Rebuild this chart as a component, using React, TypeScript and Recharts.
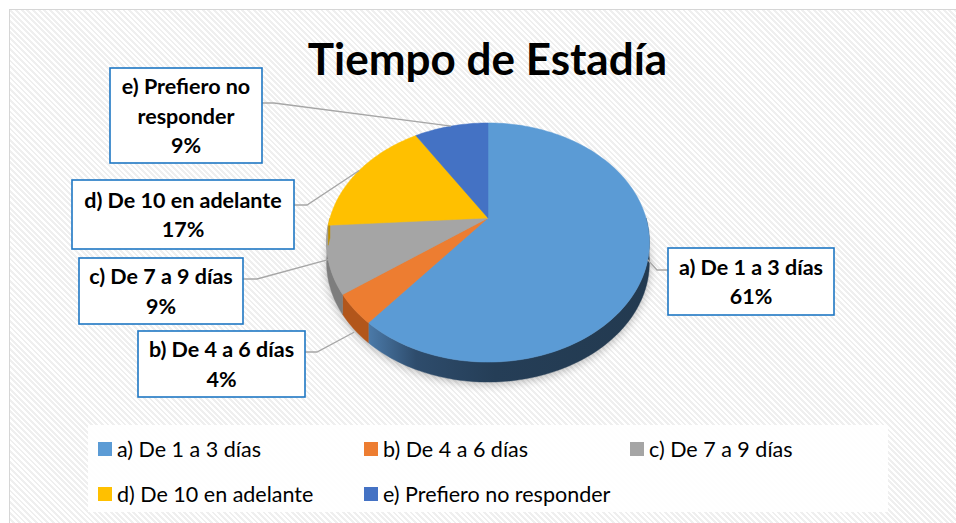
import React from 'react';
import { PieChart, Pie, Cell, Legend } from 'recharts';

// ---- data ----
const categories = [
  'a) De 1 a 3 días',
  'b) De 4 a 6 días',
  'c) De 7 a 9 días',
  'd) De 10 en adelante',
  'e) Prefiero no responder',
];
const values = [61, 4, 9, 17, 9];
const labelLines = [
  ['a) De 1 a 3 días'],
  ['b) De 4 a 6 días'],
  ['c) De 7 a 9 días'],
  ['d) De 10 en adelante'],
  ['e) Prefiero no', 'responder'],
];
const colors = ['#5B9BD5', '#ED7D31', '#A5A5A5', '#FFC000', '#4472C4'];
const sideColors = ['url(#sideA)', '#B2561B', '#7D7D7D', '#BF9000', '#2F528F'];
const title = 'Tiempo de Estadía';

const data = categories.map((name, i) => ({ name, value: values[i] }));

// ---- layout of the label boxes (annotation placement) ----
const boxLayout = [
  { x: 668, y: 248, w: 166, h: 67, side: 'left', ay: 270, elbow: 11, drop: 0 },
  { x: 138, y: 331, w: 167, h: 66, side: 'right', ay: 352, elbow: 12, drop: 23 },
  { x: 79, y: 258, w: 164, h: 66, side: 'right', ay: 279, elbow: 14, drop: 0 },
  { x: 72, y: 180, w: 222, h: 69, side: 'right', ay: 205, elbow: 13, drop: 0 },
  { x: 110, y: 68, w: 152, h: 95, side: 'right', ay: 103, elbow: 12, drop: 0 },
];

// ---- pseudo-3D projection ----
const PERSP = 0.205;
const KY = 0.725;
const DEPTH = 20;

function proj(cx: number, cy: number, R: number, deg: number, dy = 0): [number, number] {
  const t = (deg * Math.PI) / 180;
  const u = Math.cos(t);
  const v = Math.sin(t);
  const w = 1 + PERSP * v;
  return [cx + (R * u) / w, cy - (R * KY * v) / w + dy];
}

function arcPts(cx: number, cy: number, R: number, a0: number, a1: number, dy = 0) {
  const n = Math.max(2, Math.ceil(Math.abs(a1 - a0) / 1.5));
  const pts: [number, number][] = [];
  for (let k = 0; k <= n; k++) {
    pts.push(proj(cx, cy, R, a0 + ((a1 - a0) * k) / n, dy));
  }
  return pts;
}

const toPath = (pts: [number, number][]) =>
  pts.map((p, i) => `${i === 0 ? 'M' : 'L'}${p[0].toFixed(2)},${p[1].toFixed(2)}`).join(' ');

const LABEL_FONT = 'Lato, "Open Sans", sans-serif';

const renderSlice = (props: any) => {
  const { cx, cy, outerRadius, startAngle, endAngle, midAngle, percent, index } = props;
  const R = outerRadius;
  const lo = Math.min(startAngle, endAngle);
  const hi = Math.max(startAngle, endAngle);

  // top face
  const top = `M${cx},${cy} ` + toPath(arcPts(cx, cy, R, startAngle, endAngle)).replace(/^M/, 'L') + ' Z';

  // front side wall
  const fLo = Math.max(lo, -180);
  const fHi = Math.min(hi, 0);
  let side: string | null = null;
  if (fLo < fHi) {
    const upper = arcPts(cx, cy, R, fHi, fLo, 0);
    const lower = arcPts(cx, cy, R, fLo, fHi, DEPTH);
    side = toPath(upper) + ' ' + toPath(lower).replace(/^M/, 'L') + ' Z';
  }

  // shadow (only once)
  let shadow: React.ReactNode = null;
  if (index === 0) {
    const full = toPath(arcPts(cx, cy, R, 0, 360, DEPTH + 2)) + ' Z';
    shadow = (
      <g>
        <defs>
          <filter id="pieShadow" x="-20%" y="-20%" width="140%" height="140%">
            <feGaussianBlur stdDeviation="5" />
          </filter>
          <linearGradient id="sideA" x1="0" y1="0" x2="1" y2="0">
            <stop offset="0" stopColor="#4B7AA9" />
            <stop offset="0.17" stopColor="#2E4C6C" />
            <stop offset="0.45" stopColor="#253E57" />
            <stop offset="1" stopColor="#233A50" />
          </linearGradient>
        </defs>
        <path d={full} fill="#000" opacity={0.28} filter="url(#pieShadow)" />
      </g>
    );
  }

  // leader line + label box
  const L = boxLayout[index];
  const [axp, ayp] = proj(cx, cy, R, midAngle, L.drop);
  const bx = L.side === 'left' ? L.x : L.x + L.w;
  const ex = L.side === 'left' ? bx - L.elbow : bx + L.elbow;
  const lines = [...labelLines[index], `${Math.round(percent * 100)}%`];
  const lineGap = 29.5;
  const firstY = L.y + L.h / 2 - ((lines.length - 1) * lineGap) / 2;

  return (
    <g key={`slice-${index}`}>
      {shadow}
      {side && <path d={side} fill={sideColors[index]} stroke={sideColors[index]} strokeWidth={0.4} />}
      <path d={top} fill={colors[index]} stroke={colors[index]} strokeWidth={0.5} />
      <polyline
        points={`${axp},${ayp} ${ex},${L.ay} ${bx},${L.ay}`}
        fill="none"
        stroke="#A6A6A6"
        strokeWidth={1.3}
      />
      <rect x={L.x} y={L.y} width={L.w} height={L.h} fill="#FFFFFF" stroke="#1F77C4" strokeWidth={1.6} />
      {lines.map((t, k) => (
        <text
          key={k}
          x={L.x + L.w / 2}
          y={firstY + k * lineGap}
          textAnchor="middle"
          dominantBaseline="central"
          fontFamily={LABEL_FONT}
          fontWeight={700}
          fontSize={21.5}
          fill="#000"
        >
          {t}
        </text>
      ))}
    </g>
  );
};

const renderLegend = (props: any) => {
  const payload = props.payload || [];
  return (
    <div style={{ position: 'relative', width: 800, height: 87 }}>
      {payload.map((entry: any, i: number) => {
        const col = i % 3;
        const row = Math.floor(i / 3);
        return (
          <div
            key={i}
            style={{
              position: 'absolute',
              left: 10 + col * 266,
              top: 17 + row * 45,
              height: 14,
              display: 'flex',
              alignItems: 'center',
              whiteSpace: 'nowrap',
            }}
          >
            <span
              style={{ display: 'inline-block', width: 14, height: 14, background: colors[i], marginRight: 5 }}
            />
            <span style={{ fontFamily: LABEL_FONT, fontSize: 21.5, color: '#000', lineHeight: '14px' }}>
              {entry.value}
            </span>
          </div>
        );
      })}
    </div>
  );
};

export default function App() {
  return (
    <div style={{ position: 'relative', width: 956, height: 523, background: '#fff', overflow: 'hidden' }}>
      <style>{'body{margin:0}'}</style>
      <div
        style={{
          position: 'absolute',
          left: 9,
          top: 9,
          width: 947,
          height: 514,
          boxSizing: 'border-box',
          borderLeft: '1px solid #D6D6D6',
          borderTop: '1px solid #D6D6D6',
          background:
            'repeating-linear-gradient(45deg, #ffffff 0px, #ffffff 2px, #efefef 2px, #efefef 4px)',
        }}
      />
      <div
        style={{
          position: 'absolute',
          left: 88,
          top: 425,
          width: 800,
          height: 87,
          background: 'rgba(255,255,255,0.92)',
        }}
      />
      <div
        style={{
          position: 'absolute',
          left: 0,
          top: 36,
          width: 975,
          textAlign: 'center',
          fontFamily: LABEL_FONT,
          fontWeight: 700,
          fontSize: 44,
          lineHeight: '44px',
          color: '#000',
        }}
      >
        {title}
      </div>
      <div style={{ position: 'absolute', left: 0, top: 0 }}>
        <PieChart width={956} height={523} margin={{ top: 0, right: 0, bottom: 0, left: 0 }}>
          <Pie
            data={data}
            dataKey="value"
            nameKey="name"
            cx={488}
            cy={218}
            outerRadius={158}
            startAngle={90}
            endAngle={-270}
            stroke="none"
            fillOpacity={0}
            label={renderSlice}
            labelLine={false}
            isAnimationActive={false}
          >
            {data.map((d, i) => (
              <Cell key={d.name} fill={colors[i]} />
            ))}
          </Pie>
          <Legend
            content={renderLegend}
            wrapperStyle={{ position: 'absolute', left: 88, top: 425, width: 800, height: 87 }}
          />
        </PieChart>
      </div>
    </div>
  );
}
